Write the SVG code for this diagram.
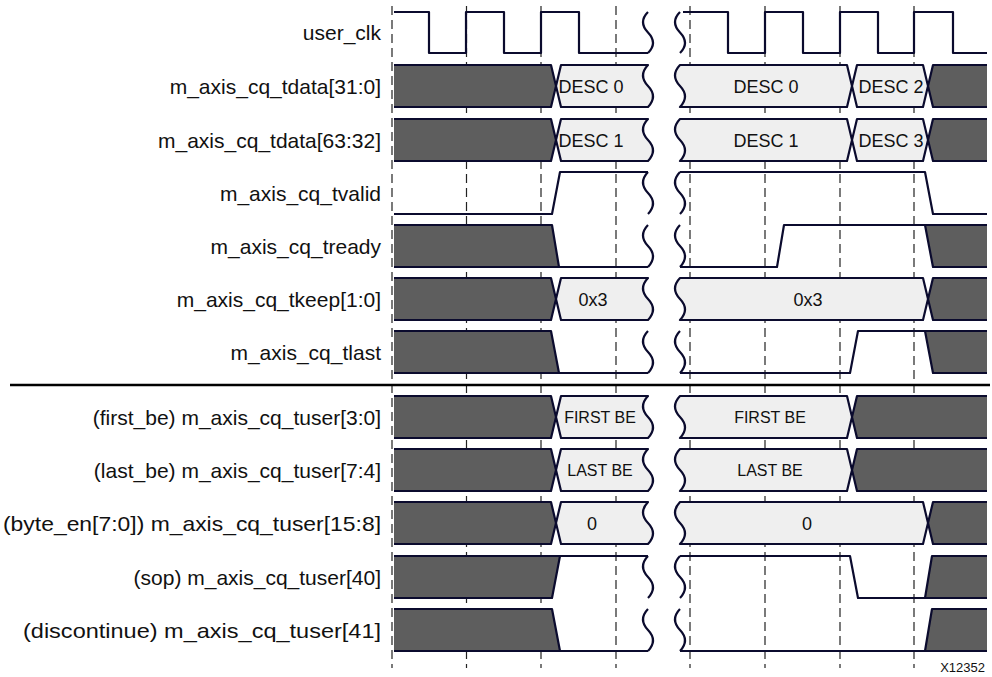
<svg xmlns="http://www.w3.org/2000/svg" width="992" height="677" viewBox="0 0 992 677">
<style>
.lbl{font-family:"Liberation Sans",Arial,sans-serif;font-size:21px;fill:#111;text-anchor:end}
.val{font-family:"Liberation Sans",Arial,sans-serif;font-size:18px;fill:#111;text-anchor:middle}
.sm{font-family:"Liberation Sans",Arial,sans-serif;font-size:16px;fill:#111;text-anchor:middle}
.w{fill:none;stroke:#0b0b2e;stroke-width:2.2;stroke-linejoin:round}
.dk{fill:#5e5e5e;stroke:#0b0b2e;stroke-width:2.2;stroke-linejoin:round}
.lt{fill:#efefef;stroke:#0b0b2e;stroke-width:2.2;stroke-linejoin:round}
.grid{stroke:#222;stroke-width:1.2;stroke-dasharray:9,5;fill:none}
</style>
<g id="grid">
<path class="grid" d="M392,6V668M466.5,6V668M541,6V668M616,6V668M690,6V668M765,6V668M840,6V668M914,6V668"/>
</g>
<g id="labels">
<text class="lbl" x="381" y="40">user_clk</text>
<text class="lbl" x="381" y="94">m_axis_cq_tdata[31:0]</text>
<text class="lbl" x="381" y="148">m_axis_cq_tdata[63:32]</text>
<text class="lbl" x="381" y="201">m_axis_cq_tvalid</text>
<text class="lbl" x="381" y="254">m_axis_cq_tready</text>
<text class="lbl" x="381" y="307">m_axis_cq_tkeep[1:0]</text>
<text class="lbl" x="381" y="360">m_axis_cq_tlast</text>
<text class="lbl" x="381" y="425">(first_be) m_axis_cq_tuser[3:0]</text>
<text class="lbl" x="381" y="478">(last_be) m_axis_cq_tuser[7:4]</text>
<text class="lbl" x="381" y="531" textLength="378" lengthAdjust="spacingAndGlyphs">(byte_en[7:0]) m_axis_cq_tuser[15:8]</text>
<text class="lbl" x="381" y="585">(sop) m_axis_cq_tuser[40]</text>
<text class="lbl" x="381" y="638" textLength="358" lengthAdjust="spacingAndGlyphs">(discontinue) m_axis_cq_tuser[41]</text>
</g>
<g id="user_clk">
<path class="w" d="M394,12H429V53H466V12H504V53H541V12H579V53H648"/>
<path class="w" d="M683,12H728V53H765V12H803V53H840V12H878V53H914V12H953V53H987"/>
<path class="w" d="M648,12Q638,22 648,32.5T648,53M680,12Q670,22 680,32.5T680,53"/>
</g>
<g id="tdata_lo">
<path class="dk" d="M394,65H551L556,86L551,107H394"/>
<path class="lt" d="M561,65H648Q638,75.5 648,86T648,107H561L556,86Z"/>
<text class="val" x="591" y="93">DESC 0</text>
<path class="lt" d="M680,65Q670,75.5 680,86T680,107H847L852,86L847,65Z"/>
<text class="val" x="766" y="93">DESC 0</text>
<path class="lt" d="M857,65H923L928,86L923,107H857L852,86Z"/>
<text class="val" x="891" y="93">DESC 2</text>
<path class="dk" d="M987,65H933L928,86L933,107H987"/>
</g>
<g id="tdata_hi">
<path class="dk" d="M394,119H551L556,140L551,161H394"/>
<path class="lt" d="M561,119H648Q638,129.5 648,140T648,161H561L556,140Z"/>
<text class="val" x="591" y="147">DESC 1</text>
<path class="lt" d="M680,119Q670,129.5 680,140T680,161H847L852,140L847,119Z"/>
<text class="val" x="766" y="147">DESC 1</text>
<path class="lt" d="M857,119H923L928,140L923,161H857L852,140Z"/>
<text class="val" x="891" y="147">DESC 3</text>
<path class="dk" d="M987,119H933L928,140L933,161H987"/>
</g>
<g id="tvalid">
<path class="w" d="M394,214H552L560,172H648"/>
<path class="w" d="M680,172H925L933,214H987"/>
<path class="w" d="M648,172Q638,182.5 648,193T648,214M680,172Q670,182.5 680,193T680,214"/>
</g>
<g id="tready">
<path class="dk" d="M394,225H552L559,267H394"/>
<path class="w" d="M559,267H648"/>
<path class="w" d="M680,267H777L784,225H925"/>
<path class="dk" d="M987,225H925L933,267H987"/>
<path class="w" d="M648,225Q638,235.5 648,246T648,267M680,225Q670,235.5 680,246T680,267"/>
</g>
<g id="tkeep">
<path class="dk" d="M394,278H551L556,299L551,320H394"/>
<path class="lt" d="M561,278H648Q638,288.5 648,299T648,320H561L556,299Z"/>
<text class="val" x="593" y="306">0x3</text>
<path class="lt" d="M680,278Q670,288.5 680,299T680,320H923L928,299L923,278Z"/>
<text class="val" x="808" y="306">0x3</text>
<path class="dk" d="M987,278H933L928,299L933,320H987"/>
</g>
<g id="tlast">
<path class="dk" d="M394,331H551L559,373H394"/>
<path class="w" d="M559,373H648"/>
<path class="w" d="M680,373H850L858,331H925"/>
<path class="dk" d="M987,331H925L933,373H987"/>
<path class="w" d="M648,331Q638,341.5 648,352T648,373M680,331Q670,341.5 680,352T680,373"/>
</g>
<g id="separator">
<path d="M10,385H990" stroke="#000" stroke-width="2.5" fill="none"/>
</g>
<g id="first_be">
<path class="dk" d="M394,396H551L556,417L551,438H394"/>
<path class="lt" d="M561,396H648Q638,406.5 648,417T648,438H561L556,417Z"/>
<text class="sm" x="600" y="423">FIRST BE</text>
<path class="lt" d="M680,396Q670,406.5 680,417T680,438H847L852,417L847,396Z"/>
<text class="sm" x="770" y="423">FIRST BE</text>
<path class="dk" d="M987,396H857L852,417L857,438H987"/>
</g>
<g id="last_be">
<path class="dk" d="M394,449H551L556,470L551,491H394"/>
<path class="lt" d="M561,449H648Q638,459.5 648,470T648,491H561L556,470Z"/>
<text class="sm" x="600" y="476">LAST BE</text>
<path class="lt" d="M680,449Q670,459.5 680,470T680,491H847L852,470L847,449Z"/>
<text class="sm" x="770" y="476">LAST BE</text>
<path class="dk" d="M987,449H857L852,470L857,491H987"/>
</g>
<g id="byte_en">
<path class="dk" d="M394,502H551L556,523L551,544H394"/>
<path class="lt" d="M561,502H648Q638,512.5 648,523T648,544H561L556,523Z"/>
<text class="val" x="592" y="530">0</text>
<path class="lt" d="M680,502Q670,512.5 680,523T680,544H923L928,523L923,502Z"/>
<text class="val" x="807" y="530">0</text>
<path class="dk" d="M987,502H933L928,523L933,544H987"/>
</g>
<g id="sop">
<path class="dk" d="M394,556H560L552,598H394"/>
<path class="w" d="M560,556H648"/>
<path class="w" d="M680,556H850L858,598H925"/>
<path class="dk" d="M987,556H932L925,598H987"/>
<path class="w" d="M648,556Q638,566.5 648,577T648,598M680,556Q670,566.5 680,577T680,598"/>
</g>
<g id="discontinue">
<path class="dk" d="M394,609H552L560,651H394"/>
<path class="w" d="M560,651H648"/>
<path class="w" d="M680,651H925"/>
<path class="dk" d="M987,609H932L925,651H987"/>
<path class="w" d="M648,609Q638,619.5 648,630T648,651M680,609Q670,619.5 680,630T680,651"/>
</g>
<text x="985" y="672" font-family="Liberation Sans,Arial,sans-serif" font-size="13" fill="#111" text-anchor="end">X12352</text>
</svg>
